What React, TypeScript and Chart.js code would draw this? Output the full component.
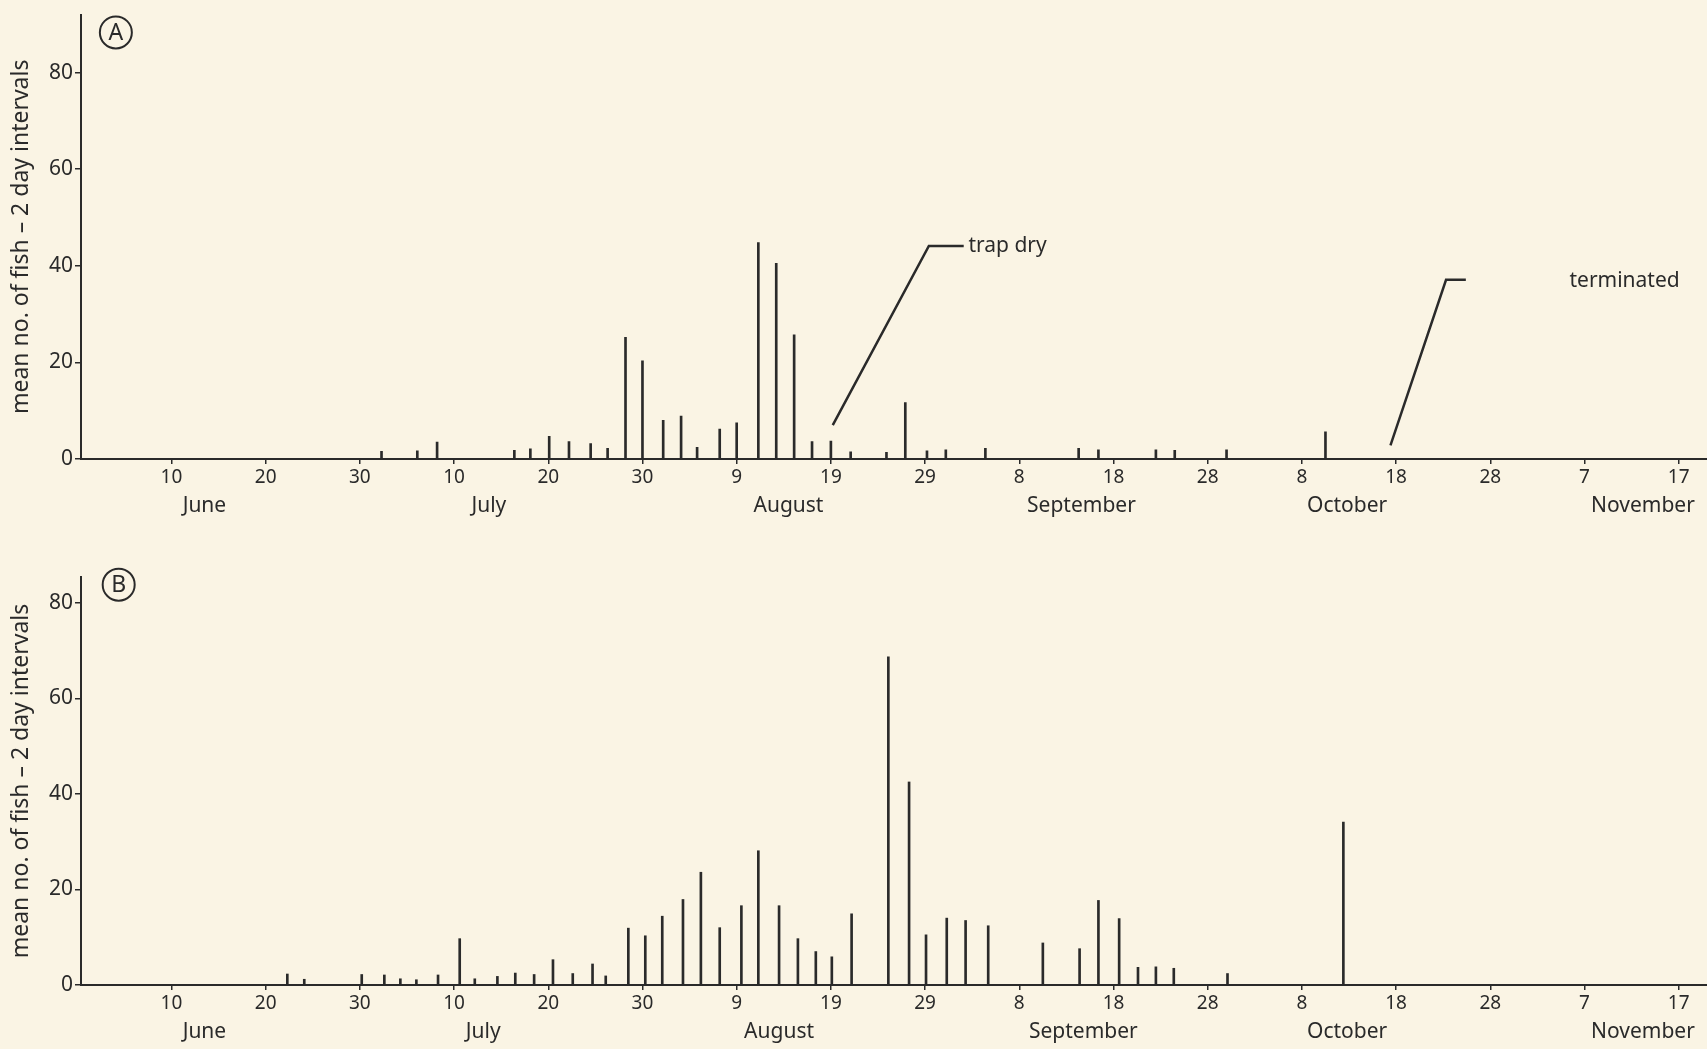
import React, { useEffect, useRef } from "react";
import { Chart, registerables } from "chart.js";

Chart.register(...registerables);

// ---------- data ----------
// x values are day numbers counted from 31 May (June 10 = 10, July 10 = 40, Aug 9 = 70, ...)
const tickDays = [10, 20, 30, 40, 50, 60, 70, 80, 90, 100, 110, 120, 130, 140, 150, 160, 170];
const tickLabels = ["10", "20", "30", "10", "20", "30", "9", "19", "29", "8", "18", "28", "8", "18", "28", "7", "17"];
const monthNames = ["June", "July", "August", "September", "October", "November"];
const monthDaysA = [13.5, 43.7, 75.5, 106.6, 134.8, 166.2];
const monthDaysB = [13.5, 43.1, 74.5, 106.8, 134.8, 166.2];
const yTicks = [0, 20, 40, 60, 80];

const daysA = [32.3, 36.1, 38.2, 46.4, 48.1, 50.1, 52.2, 54.5, 56.3, 58.2, 60.0, 62.2, 64.1, 65.8, 68.2, 70.0, 72.3, 74.2, 76.1, 78.0, 80.0, 82.1, 85.9, 87.9, 90.2, 92.2, 96.4, 106.3, 108.4, 114.5, 116.5, 122.0, 132.5];
const valuesA = [1.6, 1.7, 3.5, 1.8, 2.1, 4.7, 3.6, 3.2, 2.2, 25.2, 20.3, 8.0, 8.9, 2.4, 6.2, 7.5, 44.8, 40.5, 25.7, 3.6, 3.7, 1.5, 1.4, 11.7, 1.7, 1.9, 2.2, 2.2, 1.9, 1.9, 1.8, 1.9, 5.6];

const daysB = [22.3, 24.1, 30.2, 32.6, 34.3, 36.0, 38.3, 40.6, 42.2, 44.6, 46.5, 48.5, 50.5, 52.6, 54.7, 56.1, 58.5, 60.3, 62.1, 64.3, 66.2, 68.2, 70.5, 72.3, 74.5, 76.5, 78.4, 80.1, 82.2, 86.1, 88.3, 90.1, 92.3, 94.3, 96.7, 102.5, 106.4, 108.4, 110.6, 112.6, 114.5, 116.4, 122.1, 134.4];
const valuesB = [2.3, 1.2, 2.2, 2.1, 1.3, 1.1, 2.1, 9.7, 1.3, 1.8, 2.5, 2.2, 5.3, 2.4, 4.4, 1.9, 11.9, 10.3, 14.4, 17.9, 23.6, 12.0, 16.6, 28.1, 16.6, 9.7, 7.0, 5.9, 14.9, 68.7, 42.5, 10.5, 14.0, 13.5, 12.4, 8.8, 7.6, 17.7, 13.9, 3.7, 3.8, 3.5, 2.4, 34.1];

// annotation leader lines (panel A), in data units
const trapDryLine = [{ x: 80.2, y: 7.0 }, { x: 90.4, y: 44.1 }, { x: 94.1, y: 44.1 }];
const terminatedLine = [{ x: 139.4, y: 2.8 }, { x: 145.3, y: 37.1 }, { x: 147.4, y: 37.1 }];
const notesA = [
  { x: 94.6, y: 44.1, text: "trap dry" },
  { x: 158.4, y: 36.8, text: "terminated" },
];

const yTitle = "mean no. of fish \u2013 2 day intervals";

// ---------- styling ----------
const INK = "#2a2a2a";
const BG = "#faf4e4";
const FONT = "'Noto Sans', 'DejaVu Sans', sans-serif";
const X_MIN = 0.4;
const X_MAX = 173;

function makeDecor(letter: string, letterPos: { x: number; y: number }, notes: { x: number; y: number; text: string }[]) {
  return {
    id: "decor_" + letter,
    afterDatasetsDraw(chart: any) {
      const { ctx } = chart;
      const xs = chart.scales.x;
      const ys = chart.scales.y;
      ctx.save();
      const cx = xs.getPixelForValue(letterPos.x);
      const cy = ys.getPixelForValue(letterPos.y);
      ctx.beginPath();
      ctx.arc(cx, cy, 16, 0, Math.PI * 2);
      ctx.lineWidth = 2;
      ctx.strokeStyle = INK;
      ctx.stroke();
      ctx.fillStyle = INK;
      ctx.font = `23px ${FONT}`;
      ctx.textAlign = "center";
      ctx.textBaseline = "middle";
      ctx.fillText(letter, cx, cy + 1);
      ctx.font = `21px ${FONT}`;
      ctx.textAlign = "left";
      for (const n of notes) {
        ctx.fillText(n.text, xs.getPixelForValue(n.x), ys.getPixelForValue(n.y));
      }
      ctx.restore();
    },
  };
}

function buildConfig(
  days: number[],
  values: number[],
  yMax: number,
  monthDays: number[],
  topPad: number,
  monthAxisHeight: number,
  lines: { x: number; y: number }[][],
  plugin: any
) {
  const datasets: any[] = [
    {
      type: "bar",
      data: days.map((d, i) => ({ x: d, y: values[i] })),
      backgroundColor: INK,
      borderWidth: 0,
      barThickness: 2,
    },
  ];
  for (const l of lines) {
    datasets.push({
      type: "line",
      data: l,
      borderColor: INK,
      borderWidth: 2.5,
      pointRadius: 0,
      fill: false,
      tension: 0,
    });
  }
  return {
    type: "bar",
    data: { datasets },
    plugins: [plugin],
    options: {
      animation: false,
      responsive: false,
      devicePixelRatio: 1,
      layout: { padding: { top: topPad, right: 0, bottom: 0, left: 0 } },
      plugins: { legend: { display: false }, tooltip: { enabled: false } },
      scales: {
        x: {
          type: "linear",
          min: X_MIN,
          max: X_MAX,
          offset: false,
          position: "bottom",
          afterBuildTicks: (s: any) => {
            s.ticks = tickDays.map((v) => ({ value: v }));
          },
          afterFit: (s: any) => {
            s.height = 30;
          },
          ticks: {
            autoSkip: false,
            maxRotation: 0,
            padding: 2,
            color: INK,
            font: { family: FONT, size: 19 },
            callback: (v: any) => tickLabels[tickDays.indexOf(v)],
          },
          grid: { offset: false, drawOnChartArea: false, drawTicks: true, tickLength: 5, color: INK, lineWidth: 1.5 },
          border: { display: true, color: INK, width: 2 },
        },
        xm: {
          type: "linear",
          min: X_MIN,
          max: X_MAX,
          offset: false,
          position: "bottom",
          afterBuildTicks: (s: any) => {
            s.ticks = monthDays.map((v) => ({ value: v }));
          },
          afterFit: (s: any) => {
            s.height = monthAxisHeight;
          },
          ticks: {
            autoSkip: false,
            maxRotation: 0,
            padding: 4,
            color: INK,
            font: { family: FONT, size: 21 },
            callback: (v: any) => monthNames[monthDays.indexOf(v)],
          },
          grid: { display: false, drawTicks: false, offset: false },
          border: { display: false },
        },
        y: {
          type: "linear",
          min: 0,
          max: yMax,
          afterBuildTicks: (s: any) => {
            s.ticks = yTicks.map((v) => ({ value: v }));
          },
          afterFit: (s: any) => {
            s.width = 81;
          },
          ticks: {
            padding: 2,
            color: INK,
            font: { family: FONT, size: 21 },
          },
          grid: { drawOnChartArea: false, drawTicks: true, tickLength: 6, color: INK, lineWidth: 1.5 },
          border: { display: true, color: INK, width: 2 },
          title: {
            display: true,
            text: yTitle,
            color: INK,
            font: { family: FONT, size: 23 },
            padding: { top: 8, bottom: 0 },
          },
        },
      },
    },
  };
}

export default function App() {
  const refA = useRef<HTMLCanvasElement>(null);
  const refB = useRef<HTMLCanvasElement>(null);

  useEffect(() => {
    document.body.style.margin = "0";
    document.body.style.background = BG;
    const cfgA = buildConfig(
      daysA,
      valuesA,
      92,
      monthDaysA,
      13,
      36,
      [trapDryLine, terminatedLine],
      makeDecor("A", { x: 4.1, y: 88.3 }, notesA)
    );
    const cfgB = buildConfig(
      daysB,
      valuesB,
      85.4,
      monthDaysB,
      52,
      34,
      [],
      makeDecor("B", { x: 4.4, y: 83.8 }, [])
    );
    const a = new Chart(refA.current as HTMLCanvasElement, cfgA as any);
    const b = new Chart(refB.current as HTMLCanvasElement, cfgB as any);
    return () => {
      a.destroy();
      b.destroy();
    };
  }, []);

  return (
    <div style={{ position: "absolute", left: 0, top: 0, width: 1707, height: 1049, background: BG, overflow: "hidden" }}>
      <canvas ref={refA} width={1707} height={525} style={{ position: "absolute", left: 0, top: 0, width: 1707, height: 525 }} />
      <canvas ref={refB} width={1707} height={524} style={{ position: "absolute", left: 0, top: 525, width: 1707, height: 524 }} />
    </div>
  );
}
